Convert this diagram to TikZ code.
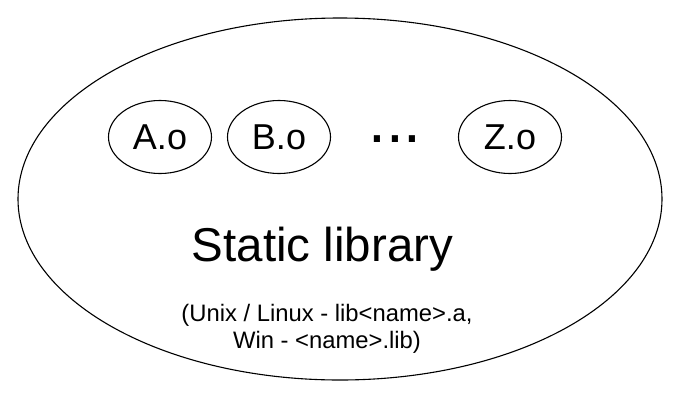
\documentclass[tikz,border=0pt]{standalone}
\usepackage{fontspec}
\setmainfont{Liberation Sans}
\usetikzlibrary{shapes.geometric,positioning}
\begin{document}
\begin{tikzpicture}[x=1pt, y=-1pt, line width=1.1pt]
	       		\useasboundingbox (0,0) rectangle (678,400);
	       		\draw node[ellipse, draw, minimum width=644pt, minimum height=362pt, inner sep=0pt] at (340,199) (lib) {};
	       		\draw node[ellipse, draw, minimum width=103pt, minimum height=73pt, inner sep=0pt, font=\fontsize{36}{40}\selectfont] at (160,137) (a) {A.o};
	       		\draw node[ellipse, draw, minimum width=103pt, minimum height=73pt, inner sep=0pt, font=\fontsize{36}{40}\selectfont] 
	       		[right of=a, node distance=119pt] (b) {B.o};
	       		\draw node[ellipse, draw, minimum width=103pt, minimum height=73pt, inner sep=0pt, font=\fontsize{36}{40}\selectfont] 
	       		[right of=b, node distance=231pt] (z) {Z.o};
	       		\draw node[anchor=base, inner sep=0pt, font=\fontsize{64}{70}\selectfont] at (395,142.5) (dots) {...};
	       		\draw node[anchor=base, inner sep=0pt, font=\fontsize{47.5}{52}\selectfont] at (322.5,261.7) (name) {Static library};
	       		\draw node[anchor=base, inner sep=0pt, align=center, font=\fontsize{23.8}{26.6}\selectfont] at (327,348.3) (os) {(Unix / Linux - lib<name>.a,\\ Win - <name>.lib)};
	       	\end{tikzpicture}
\end{document}
